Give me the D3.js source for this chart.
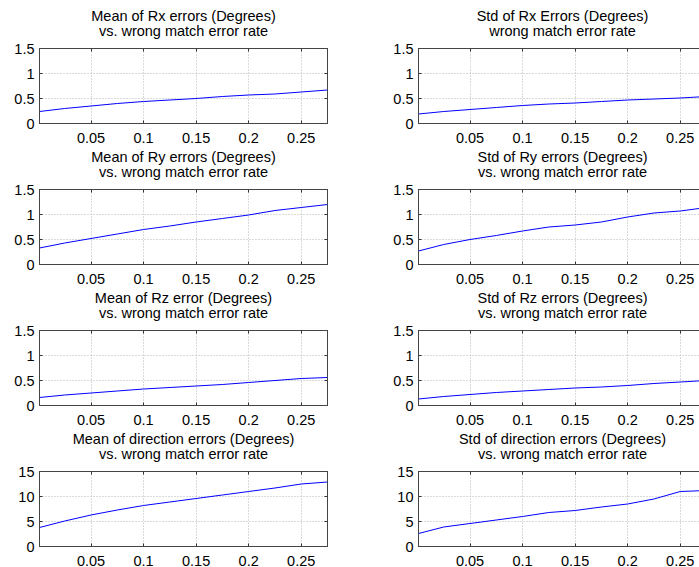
<!DOCTYPE html>
<html>
<head>
<meta charset="utf-8">
<script src="https://cdn.jsdelivr.net/npm/d3@7"></script>
<style>
  html, body { margin: 0; padding: 0; background: #fff; }
  svg { display: block; }
  text { font-family: "Liberation Sans", Arial, Helvetica, sans-serif; fill: #000; }
</style>
</head>
<body>
<svg id="chart" width="699" height="567"></svg>
<script>
// ---- data ----
const xRates = [0.001, 0.025, 0.05, 0.075, 0.1, 0.125, 0.15, 0.175, 0.2, 0.225, 0.25, 0.275];
const meanRx  = [0.24, 0.30, 0.35, 0.40, 0.44, 0.47, 0.50, 0.54, 0.57, 0.59, 0.63, 0.67];
const stdRx   = [0.19, 0.24, 0.28, 0.32, 0.36, 0.39, 0.41, 0.44, 0.47, 0.49, 0.51, 0.54];
const meanRy  = [0.33, 0.43, 0.52, 0.61, 0.70, 0.77, 0.85, 0.92, 0.99, 1.08, 1.14, 1.20];
const stdRy   = [0.27, 0.40, 0.50, 0.58, 0.67, 0.75, 0.79, 0.85, 0.95, 1.03, 1.07, 1.14];
const meanRz  = [0.16, 0.21, 0.25, 0.29, 0.33, 0.36, 0.39, 0.42, 0.46, 0.50, 0.54, 0.56];
const stdRz   = [0.13, 0.18, 0.22, 0.26, 0.29, 0.32, 0.35, 0.37, 0.40, 0.44, 0.47, 0.50];
const meanDir = [3.8, 5.1, 6.3, 7.3, 8.2, 8.9, 9.6, 10.3, 11.0, 11.7, 12.5, 12.9];
const stdDir  = [2.6, 3.9, 4.6, 5.3, 6.0, 6.8, 7.2, 7.9, 8.5, 9.5, 11.0, 11.2];

const xTicks = [0.05, 0.1, 0.15, 0.2, 0.25];
const xDomain = [0.001, 0.275];
const yTicksSmall = [0, 0.5, 1, 1.5];
const yTicksDir = [0, 5, 10, 15];

const titles = [
  ["Mean of Rx errors (Degrees)", "vs. wrong match error rate"],
  ["Std of Rx Errors (Degrees)", "wrong match error rate"],
  ["Mean of Ry errors (Degrees)", "vs. wrong match error rate"],
  ["Std of Ry errors (Degrees)", "vs. wrong match error rate"],
  ["Mean of Rz error (Degrees)", "vs. wrong match error rate"],
  ["Std of Rz errors (Degrees)", "vs. wrong match error rate"],
  ["Mean of direction errors (Degrees)", "vs. wrong match error rate"],
  ["Std of direction errors (Degrees)", "vs. wrong match error rate"]
];
const seriesList = [meanRx, stdRx, meanRy, stdRy, meanRz, stdRz, meanDir, stdDir];
const yTickList = [yTicksSmall, yTicksSmall, yTicksSmall, yTicksSmall, yTicksSmall, yTicksSmall, yTicksDir, yTicksDir];

// ---- layout ----
const colLeft = [39, 418.3];
const rowTop = [47.5, 188.5, 330, 471];
const W = 288, H = 75;

const svg = d3.select("#chart");

seriesList.forEach((vals, i) => {
  const col = i % 2, row = Math.floor(i / 2);
  const ox = Math.round(colLeft[col]) + 0.5;
  const oy = Math.round(rowTop[row]) + 0.5;
  const yt = yTickList[i];
  const x = d3.scaleLinear().domain(xDomain).range([0, W]);
  const y = d3.scaleLinear().domain([yt[0], yt[yt.length - 1]]).range([H, 0]);

  const g = svg.append("g").attr("transform", `translate(${ox},${oy})`);

  // grid
  const snap = v => Math.round(v);
  g.selectAll(".gx").data(xTicks).enter().append("line")
    .attr("x1", d => snap(x(d))).attr("x2", d => snap(x(d)))
    .attr("y1", 0).attr("y2", H)
    .attr("stroke", "#b4b4b4").attr("stroke-width", 1).attr("stroke-dasharray", "1,2");
  g.selectAll(".gy").data(yt.slice(1, -1)).enter().append("line")
    .attr("y1", d => snap(y(d))).attr("y2", d => snap(y(d)))
    .attr("x1", 0).attr("x2", W)
    .attr("stroke", "#b4b4b4").attr("stroke-width", 1).attr("stroke-dasharray", "1,2");

  // data line
  const clipId = "clip" + i;
  g.append("clipPath").attr("id", clipId).append("rect")
    .attr("x", 0).attr("y", 0).attr("width", W).attr("height", H);
  const line = d3.line().x((d, k) => x(xRates[k])).y(d => y(d));
  g.append("path").datum(vals)
    .attr("d", line)
    .attr("fill", "none").attr("stroke", "#0000ff").attr("stroke-width", 1)
    .attr("clip-path", `url(#${clipId})`);

  // inward ticks
  const tl = 3;
  xTicks.forEach(t => {
    const px = snap(x(t));
    g.append("line").attr("x1", px).attr("x2", px).attr("y1", H).attr("y2", H - tl).attr("stroke", "#333");
    g.append("line").attr("x1", px).attr("x2", px).attr("y1", 0).attr("y2", tl).attr("stroke", "#333");
  });
  yt.forEach(t => {
    const py = snap(y(t));
    g.append("line").attr("x1", 0).attr("x2", tl).attr("y1", py).attr("y2", py).attr("stroke", "#333");
    g.append("line").attr("x1", W).attr("x2", W - tl).attr("y1", py).attr("y2", py).attr("stroke", "#333");
  });

  // box
  g.append("rect").attr("x", 0).attr("y", 0).attr("width", W).attr("height", H)
    .attr("fill", "none").attr("stroke", "#444").attr("stroke-width", 1);

  // tick labels
  g.selectAll(".xl").data(xTicks).enter().append("text")
    .attr("x", d => x(d)).attr("y", H + 19)
    .attr("text-anchor", "middle").attr("font-size", "14.5px")
    .text(d => d3.format("")(d).replace(/^0\./, "0."));
  g.selectAll(".yl").data(yt).enter().append("text")
    .attr("x", -5).attr("y", d => y(d)).attr("dy", "0.36em")
    .attr("text-anchor", "end").attr("font-size", "14.5px")
    .text(d => String(d));

  // title
  g.append("text").attr("x", W / 2).attr("y", -28)
    .attr("text-anchor", "middle").attr("font-size", "14.5px").text(titles[i][0]);
  g.append("text").attr("x", W / 2).attr("y", -13)
    .attr("text-anchor", "middle").attr("font-size", "14.5px").text(titles[i][1]);
});
</script>
</body>
</html>
